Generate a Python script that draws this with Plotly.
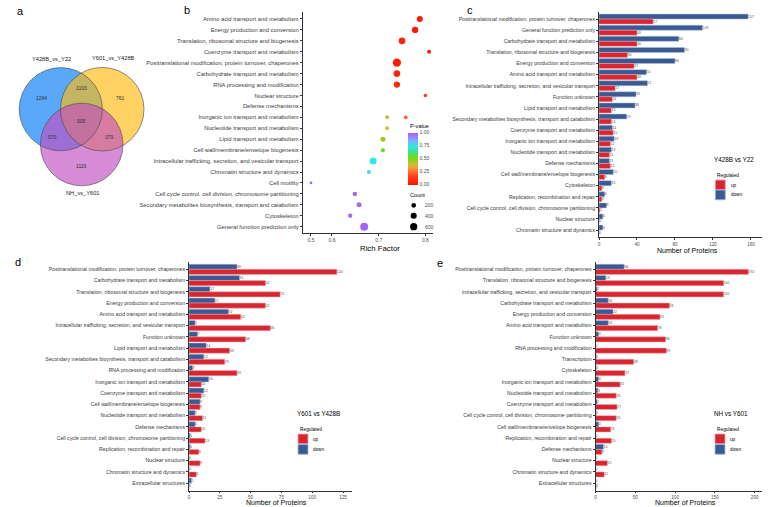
import plotly.graph_objects as go

W, H = 782, 507
FONT = "Liberation Sans, Arial, sans-serif"
RED, BLUE = "#D7262F", "#3A5A93"
RED_EDGE, BLUE_EDGE = "#F2A7AC", "#AABEE0"
AXC = "#333333"
TXT = "#4D4D4D"

# ---------------- data ----------------
# panel a (Venn)
venn_sets = ["Y428B_vs_Y22", "Y601_vs_Y428B", "NH_vs_Y601"]
venn_counts = [1284, 1103, 761, 505, 570, 379, 1116]

# panel b (enrichment bubble chart)
b_rows = [
    "Amino acid transport and metabolism",
    "Energy production and conversion",
    "Translation, ribosomal structure and biogenesis",
    "Coenzyme transport and metabolism",
    "Posttranslational modification, protein turnover, chaperones",
    "Carbohydrate transport and metabolism",
    "RNA processing and modification",
    "Nuclear structure",
    "Defense mechanisms",
    "Inorganic ion transport and metabolism",
    "Nucleotide transport and metabolism",
    "Lipid transport and metabolism",
    "Cell wall/membrane/envelope biogenesis",
    "Intracellular trafficking, secretion, and vesicular transport",
    "Chromatin structure and dynamics",
    "Cell motility",
    "Cell cycle control, cell division, chromosome partitioning",
    "Secondary metabolites biosynthesis, transport and catabolism",
    "Cytoskeleton",
    "General function prediction only",
]
b_terms = [
    "Amino acid transport and metabolism",
    "Energy production and conversion",
    "Translation, ribosomal structure and biogenesis",
    "Coenzyme transport and metabolism",
    "Posttranslational modification, protein turnover, chaperones",
    "Carbohydrate transport and metabolism",
    "RNA processing and modification",
    "Nuclear structure",
    "Inorganic ion transport and metabolism",
    "Inorganic ion transport and metabolism",
    "Nucleotide transport and metabolism",
    "Lipid transport and metabolism",
    "Cell wall/membrane/envelope biogenesis",
    "Intracellular trafficking, secretion, and vesicular transport",
    "Chromatin structure and dynamics",
    "Cell motility",
    "Cell cycle control, cell division, chromosome partitioning",
    "Secondary metabolites biosynthesis, transport and catabolism",
    "Cytoskeleton",
    "General function prediction only",
]
b_rich = [0.788, 0.778, 0.750, 0.808, 0.739, 0.739, 0.739, 0.800, 0.758, 0.718,
          0.718, 0.709, 0.709, 0.688, 0.679, 0.500, 0.649, 0.658, 0.639, 0.669]
b_pval = [0.02, 0.03, 0.05, 0.03, 0.03, 0.06, 0.08, 0.12, 0.22, 0.40,
          0.40, 0.46, 0.53, 0.75, 0.77, 0.98, 0.97, 0.97, 0.98, 0.99]
b_count = [380, 430, 495, 125, 800, 495, 430, 60, 90, 125,
           125, 240, 125, 550, 125, 10, 180, 240, 155, 740]
b_xticks = [0.5, 0.6, 0.7, 0.8]
b_size_legend = [200, 400, 600]
b_p_ticks = [0.0, 0.25, 0.5, 0.75, 1.0]

# panel c
c_terms = [
    "Posttranslational modification, protein turnover, chaperones",
    "General function prediction only",
    "Carbohydrate transport and metabolism",
    "Translation, ribosomal structure and biogenesis",
    "Energy production and conversion",
    "Amino acid transport and metabolism",
    "Intracellular trafficking, secretion, and vesicular transport",
    "Function unknown",
    "Lipid transport and metabolism",
    "Secondary metabolites biosynthesis, transport and catabolism",
    "Coenzyme transport and metabolism",
    "Inorganic ion transport and metabolism",
    "Nucleotide transport and metabolism",
    "Defense mechanisms",
    "Cell wall/membrane/envelope biogenesis",
    "Cytoskeleton",
    "Replication, recombination and repair",
    "Cell cycle control, cell division, chromosome partitioning",
    "Nuclear structure",
    "Chromatin structure and dynamics",
]
c_down = [157, 109, 84, 90, 80, 50, 51, 39, 38, 29, 14, 16, 13, 11, 15, 13, 6, 8, 4, 4]
c_up = [57, 40, 40, 30, 37, 40, 17, 14, 13, 13, 15, 12, 11, 12, 6, 3, 3, 1, 0, 0]
c_ticks = [0, 40, 80, 120, 160]

# panel d
d_terms = [
    "Posttranslational modification, protein turnover, chaperones",
    "Carbohydrate transport and metabolism",
    "Translation, ribosomal structure and biogenesis",
    "Energy production and conversion",
    "Amino acid transport and metabolism",
    "Intracellular trafficking, secretion, and vesicular transport",
    "Function unknown",
    "Lipid transport and metabolism",
    "Secondary metabolites bioynthesis, transport and catabolism",
    "RNA processing and modification",
    "Inorganic ion transport and metabolism",
    "Coenzyme transport and metabolism",
    "Cell wall/membrane/envelope biogenesis",
    "Nucleotide transport and metabolism",
    "Defense mechanisms",
    "Cell cycle control, cell division, chromosome partitioning",
    "Replication, recombination and repair",
    "Nuclear structure",
    "Chromatin structure and dynamics",
    "Extracellular structures",
]
d_down = [39, 41, 17, 21, 32, 5, 7, 14, 12, 3, 16, 12, 9, 5, 5, 1, 1, 0, 0, 2]
d_up = [120, 62, 74, 62, 42, 66, 46, 33, 29, 39, 10, 10, 9, 11, 10, 13, 8, 9, 6, 0]
d_ticks = [0, 25, 50, 75, 100, 125]

# panel e
e_terms = [
    "Posttranslational modification, protein turnover, chaperones",
    "Translation, ribosomal structure and biogenesis",
    "Intracellular trafficking, secretion, and vesicular transport",
    "Carbohydrate transport and metabolism",
    "Energy production and conversion",
    "Amino acid transport and metabolism",
    "Function unknown",
    "RNA processing and modification",
    "Transcription",
    "Cytoskeleton",
    "Inorganic ion transport and metabolism",
    "Nucleotide transport and metabolism",
    "Coenzyme transport and metabolism",
    "Cell cycle control, cell division, chromosome partitioning",
    "Cell wall/membrane/envelope biogenesis",
    "Replication, recombination and repair",
    "Defense mechanisms",
    "Nuclear structure",
    "Chromatin structure and dynamics",
    "Extracellular structures",
]
e_down = [36, 13, 2, 16, 22, 16, 4, 0, 1, 1, 4, 3, 2, 1, 4, 0, 10, 0, 0, 0]
e_up = [192, 161, 161, 93, 81, 78, 88, 89, 48, 37, 31, 26, 27, 26, 19, 20, 8, 15, 11, 1]
e_ticks = [0, 50, 100, 150, 200]

# ---------------- helpers ----------------
def px(x):
    return x / W

def py(y):
    return 1 - y / H

def ann(x, y, text, size, color="black", xanchor="center", yanchor="middle", xref="paper", yref="paper"):
    if xref == "paper":
        x = px(x)
    if yref == "paper":
        y = py(y)
    return dict(x=x, y=y, xref=xref, yref=yref, text=text, showarrow=False,
                font=dict(size=size, color=color, family=FONT),
                xanchor=xanchor, yanchor=yanchor)

def rf_axis(v):
    # compressed segment below 0.6 (broken axis as in the original)
    return v if v >= 0.6 else 0.6 - (0.6 - v) * 0.45

def count_to_px(c):
    # area-proportional size scale
    return (6.5 + 0.0775 * c) ** 0.5

fig = go.Figure()
shapes = []
annotations = []

# ---------------- panel a: Venn ----------------
venn_cx = [60.8, 102.2, 81.7]
venn_cy = [109.2, 109.2, 144.5]
venn_r = [41.6, 41.8, 41.3]
venn_fill = ["#0079F8", "#FFBA11", "#C24EC2"]
venn_lab_x = [41.7, 81, 120, 81, 52.3, 109.7, 81]
venn_lab_y = [98.3, 88.3, 98.3, 120.7, 136.7, 136.7, 165.7]
venn_name_x = [51.7, 113.3, 83.3]
venn_name_y = [59, 58.3, 192.7]

fig.add_trace(go.Scatter(x=[0], y=[0], xaxis="x5", yaxis="y5", mode="markers",
                         marker=dict(opacity=0), showlegend=False, hoverinfo="skip"))
for i in range(3):
    shapes.append(dict(type="circle", xref="x5", yref="y5",
                       x0=venn_cx[i] - venn_r[i], x1=venn_cx[i] + venn_r[i],
                       y0=venn_cy[i] - venn_r[i], y1=venn_cy[i] + venn_r[i],
                       fillcolor=venn_fill[i], opacity=0.65, line=dict(width=0)))
for i in range(3):
    shapes.append(dict(type="circle", xref="x5", yref="y5",
                       x0=venn_cx[i] - venn_r[i], x1=venn_cx[i] + venn_r[i],
                       y0=venn_cy[i] - venn_r[i], y1=venn_cy[i] + venn_r[i],
                       fillcolor="rgba(0,0,0,0)", line=dict(color="#444444", width=0.6)))
for i, v in enumerate(venn_counts):
    annotations.append(ann(venn_lab_x[i], venn_lab_y[i], str(v), 5.0, "#333333", xref="x5", yref="y5"))
for i, name in enumerate(venn_sets):
    annotations.append(ann(venn_name_x[i], venn_name_y[i], name, 5.7, "#222222", xref="x5", yref="y5"))

# ---------------- panel b: bubbles ----------------
b_colorscale = [
    [0.0, "#FF1500"], [0.15, "#FF3A1A"], [0.25, "#FF6A30"], [0.33, "#F0A030"],
    [0.40, "#C8C035"], [0.47, "#9ACC22"], [0.53, "#66DD11"], [0.62, "#44E080"],
    [0.75, "#33E5E5"], [0.85, "#77B0FF"], [0.93, "#9C80FF"], [1.0, "#A560F5"],
]
fig.add_trace(go.Scatter(
    x=[rf_axis(v) for v in b_rich], y=b_terms, xaxis="x", yaxis="y", mode="markers",
    marker=dict(size=[count_to_px(c) for c in b_count], color=b_pval, cmin=0, cmax=1,
                colorscale=b_colorscale, line=dict(width=0), opacity=1,
                colorbar=dict(x=px(408.3), xanchor="left", y=py(158.5), yanchor="middle",
                              len=52, lenmode="pixels", thickness=10, thicknessmode="pixels",
                              outlinewidth=0, xpad=0, ypad=0, ticks="",
                              tickvals=b_p_ticks, ticktext=["%.2f" % t for t in b_p_ticks],
                              tickfont=dict(size=5.0, color=TXT, family=FONT),
                              title=dict(text=""))),
    cliponaxis=False, showlegend=False, hoverinfo="skip"))
annotations.append(ann(408, 125.7, "P-value", 5.6, "black", xanchor="left"))
annotations.append(ann(408, 195.3, "Count", 5.6, "black", xanchor="left"))
for c, yy in zip(b_size_legend, [205.3, 215.7, 226.7]):
    d = count_to_px(c)
    shapes.append(dict(type="circle", xref="paper", yref="paper", xsizemode="pixel", ysizemode="pixel",
                       xanchor=px(413.7), yanchor=py(yy), x0=-d / 2, x1=d / 2, y0=-d / 2, y1=d / 2,
                       fillcolor="black", line=dict(width=0)))
    annotations.append(ann(423.3, yy, str(c), 5.0, TXT, xanchor="left"))
annotations.append(ann(380, 248.5, "Rich Factor", 7.8, "black"))

# ---------------- bar panels ----------------
bar_panels = [
    dict(terms=c_terms, down=c_down, up=c_up, xa="x2", ya="y2"),
    dict(terms=d_terms, down=d_down, up=d_up, xa="x3", ya="y3"),
    dict(terms=e_terms, down=e_down, up=e_up, xa="x4", ya="y4"),
]
for p in bar_panels:
    for vals, col, edge, nm in [(p["down"], BLUE, BLUE_EDGE, "down"), (p["up"], RED, RED_EDGE, "up")]:
        fig.add_trace(go.Bar(
            x=vals, y=p["terms"], orientation="h", xaxis=p["xa"], yaxis=p["ya"], name=nm,
            marker=dict(color=col, line=dict(color=edge, width=0.5)),
            text=[str(v) for v in vals], textposition="outside", constraintext="none",
            textfont=dict(size=3.6, color="#555555", family=FONT), textangle=0,
            cliponaxis=False, showlegend=False, hoverinfo="skip"))

legend_specs = [
    dict(title="Y428B vs Y22", tx=734, ty=159, lx=715.3, reg_y=175, sw_y=[180, 190], tlx=729.3),
    dict(title="Y601 vs Y428B", tx=318.5, ty=413.3, lx=298, reg_y=429, sw_y=[434, 444.5], tlx=311),
    dict(title="NH vs Y601", tx=730.5, ty=413.3, lx=715, reg_y=429, sw_y=[434, 444.5], tlx=727.7),
]
for L in legend_specs:
    annotations.append(ann(L["tx"], L["ty"], L["title"], 6.3, "black"))
    annotations.append(ann(L["lx"], L["reg_y"], "Regulated", 4.8, "black", xanchor="left"))
    for (lab, col, edge), y0 in zip([("up", RED, RED_EDGE), ("down", BLUE, BLUE_EDGE)], L["sw_y"]):
        shapes.append(dict(type="rect", xref="paper", yref="paper",
                           x0=px(L["lx"]), x1=px(L["lx"] + 10), y0=py(y0 + 9.8), y1=py(y0),
                           fillcolor=col, line=dict(color=edge, width=0.8)))
        annotations.append(ann(L["tlx"], y0 + 5, lab, 4.6, "black", xanchor="left"))

for xx, yy in [(687, 250), (276, 502.8), (685, 502.8)]:
    annotations.append(ann(xx, yy, "Number of Proteins", 7.0, "black"))

for lt, xx, yy in [("a", 20, 10.7), ("b", 187, 10), ("c", 470, 10), ("d", 18, 262), ("e", 440, 263)]:
    annotations.append(ann(xx, yy, lt, 11, "black"))

# ---------------- axes ----------------
def xax(domain, rng, tickvals, ticktext=None, fs=4.6, anchor=None):
    d = dict(domain=[px(domain[0]), px(domain[1])], range=rng, showgrid=False, zeroline=False,
             showline=True, linecolor=AXC, linewidth=0.8, ticks="outside", ticklen=2,
             tickwidth=0.6, tickcolor=AXC, tickvals=tickvals,
             tickfont=dict(size=fs, color=TXT, family=FONT), anchor=anchor, fixedrange=True)
    if ticktext is not None:
        d["ticktext"] = ticktext
    return d

def yax(domain, cats, fs, anchor, pad_top=0.65, pad_bot=0.65):
    n = len(cats)
    return dict(domain=[py(domain[1]), py(domain[0])], type="category", categoryorder="array",
                categoryarray=cats, range=[n - 1 + pad_bot, -pad_top], showgrid=False, zeroline=False,
                showline=True, linecolor=AXC, linewidth=0.8, ticks="outside", ticklen=2,
                tickwidth=0.6, tickcolor=AXC, tickfont=dict(size=fs, color="#3A3A3A", family=FONT),
                anchor=anchor, fixedrange=True)

layout = dict(
    width=W, height=H, margin=dict(l=0, r=0, t=0, b=0),
    paper_bgcolor="white", plot_bgcolor="rgba(0,0,0,0)",
    font=dict(family=FONT), barmode="group", bargap=0.1, bargroupgap=0.0,
    showlegend=False,
    xaxis=xax([302.7, 433], [0.5373, 0.8163], [rf_axis(v) for v in b_xticks],
              ["%.1f" % v for v in b_xticks], fs=5.0, anchor="y"),
    yaxis=yax([12.4, 232.7], b_rows, 5.8, "x", pad_top=0.6, pad_bot=0.55),
    xaxis2=xax([599, 761.7], [0, 171.3], c_ticks, anchor="y2"),
    yaxis2=yax([11.9, 237.3], c_terms, 5.2, "x2"),
    xaxis3=xax([189, 352], [0, 132.3], d_ticks, anchor="y3"),
    yaxis3=yax([262, 490.5], d_terms, 5.2, "x3"),
    xaxis4=xax([595.5, 761.7], [0, 208.8], e_ticks, anchor="y4"),
    yaxis4=yax([262, 490.5], e_terms, 5.2, "x4"),
    xaxis5=dict(domain=[0, px(165)], range=[0, 165], visible=False, anchor="y5", fixedrange=True),
    yaxis5=dict(domain=[py(250), 1], range=[250, 0], visible=False, anchor="x5", fixedrange=True),
    shapes=shapes, annotations=annotations,
)
fig.update_layout(**layout)
fig.write_html("out.html")
